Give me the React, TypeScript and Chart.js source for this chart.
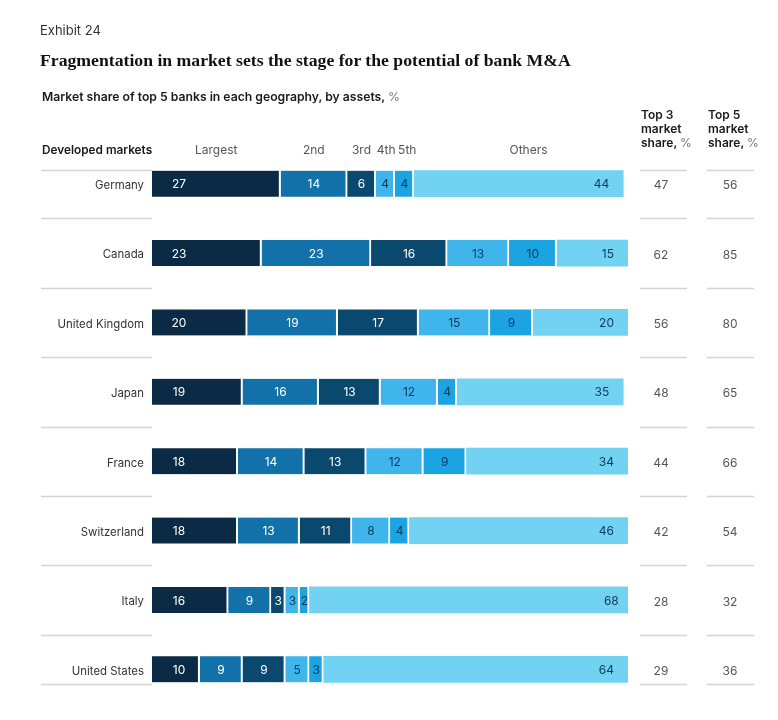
import React, { useEffect, useRef } from "react";
import { Chart, registerables } from "chart.js";

Chart.register(...registerables);

const countries = ["Germany", "Canada", "United Kingdom", "Japan", "France", "Switzerland", "Italy", "United States"];
const segmentNames = ["Largest", "2nd", "3rd", "4th", "5th", "Others"];
const largest = [27, 23, 20, 19, 18, 18, 16, 10];
const second = [14, 23, 19, 16, 14, 13, 9, 9];
const third = [6, 16, 17, 13, 13, 11, 3, 9];
const fourth = [4, 13, 15, 12, 12, 8, 3, 5];
const fifth = [4, 10, 9, 4, 9, 4, 2, 3];
const others = [44, 15, 20, 35, 34, 46, 68, 64];
const top3Share = [47, 62, 56, 48, 44, 42, 28, 29];
const top5Share = [56, 85, 80, 65, 66, 54, 32, 36];

const segColors = ["#0a2a45", "#1271a8", "#0b486e", "#40b5ec", "#1ba3e2", "#72d2f2"];
const labelColors = ["#ffffff", "#ffffff", "#ffffff", "#0d3a5c", "#0d3a5c", "#0d3a5c"];
const FONT = "Inter, Roboto, 'Liberation Sans', Arial, sans-serif";

const overlayPlugin = {
  id: "overlay",
  afterDatasetsDraw(chart: any) {
    const ctx = chart.ctx;
    const yScale = chart.scales.y;
    const area = chart.chartArea;
    ctx.save();
    // segment labels
    chart.data.datasets.forEach((ds: any, di: number) => {
      const meta = chart.getDatasetMeta(di);
      meta.data.forEach((bar: any, i: number) => {
        const v = ds.data[i];
        ctx.font = `12px ${FONT}`;
        ctx.fillStyle = labelColors[di];
        ctx.textBaseline = "middle";
        let x: number;
        if (di === 0) {
          ctx.textAlign = "center";
          x = bar.base + 27;
        } else if (di === 5) {
          ctx.textAlign = "right";
          x = bar.x - 14;
        } else {
          ctx.textAlign = "center";
          x = (bar.base + bar.x) / 2;
        }
        ctx.fillText(String(v), x, bar.y + 1);
      });
    });
    // column headers from first row segments
    ctx.font = `12px ${FONT}`;
    ctx.fillStyle = "#555";
    ctx.textAlign = "center";
    ctx.textBaseline = "alphabetic";
    const headerShift = [0, 0, 0, 1, 3, 10];
    chart.data.datasets.forEach((ds: any, di: number) => {
      const bar = chart.getDatasetMeta(di).data[0];
      const x = (bar.base + bar.x) / 2 + headerShift[di];
      ctx.fillText(segmentNames[di], x, 154);
    });
    // country labels, right columns, separators
    const n = countries.length;
    const step = yScale.getPixelForValue(1) - yScale.getPixelForValue(0);
    const lineYs: number[] = [];
    lineYs.push(yScale.getPixelForValue(0) - 14);
    for (let i = 0; i < n - 1; i++) lineYs.push(yScale.getPixelForValue(i) + step / 2);
    lineYs.push(yScale.getPixelForValue(n - 1) + 15);
    ctx.strokeStyle = "#d4d4d4";
    ctx.lineWidth = 1.5;
    lineYs.forEach((ly) => {
      const yy = Math.round(ly) + 0.5;
      ctx.beginPath();
      ctx.moveTo(41, yy);
      ctx.lineTo(area.left, yy);
      ctx.moveTo(640, yy);
      ctx.lineTo(687, yy);
      ctx.moveTo(707, yy);
      ctx.lineTo(754, yy);
      ctx.stroke();
    });
    countries.forEach((c, i) => {
      const y = yScale.getPixelForValue(i) + 2;
      ctx.textBaseline = "middle";
      ctx.font = `11.4px ${FONT}`;
      ctx.fillStyle = "#333";
      ctx.textAlign = "right";
      ctx.fillText(c, area.left - 8, y);
      ctx.font = `12px ${FONT}`;
      ctx.fillStyle = "#555";
      ctx.textAlign = "center";
      ctx.fillText(String(top3Share[i]), 661, y);
      ctx.fillText(String(top5Share[i]), 730, y);
    });
    ctx.restore();
  },
};

export default function App() {
  const ref = useRef<HTMLCanvasElement>(null);
  useEffect(() => {
    if (!ref.current) return;
    const series = [largest, second, third, fourth, fifth, others];
    const chart = new Chart(ref.current, {
      type: "bar",
      data: {
        labels: countries,
        datasets: series.map((d, i) => ({
          label: segmentNames[i],
          data: d,
          backgroundColor: segColors[i],
          borderColor: "#ffffff",
          borderWidth: i === 5 ? 0 : { top: 0, bottom: 0, left: 0, right: 2 },
          borderSkipped: false,
          barThickness: 26,
        })),
      },
      options: {
        indexAxis: "y",
        responsive: false,
        animation: false,
        layout: { padding: { left: 152, right: 150, top: 149, bottom: 16 } },
        plugins: { legend: { display: false }, tooltip: { enabled: false } },
        scales: {
          x: { stacked: true, min: 0, max: 100, display: false },
          y: { stacked: true, display: false },
        },
      } as any,
      plugins: [overlayPlugin],
    });
    return () => chart.destroy();
  }, []);

  const text: React.CSSProperties = { position: "absolute", margin: 0, whiteSpace: "nowrap", fontFamily: FONT };
  return (
    <div style={{ position: "absolute", left: 0, top: 0, width: 778, height: 720, background: "#fff" }}>
      <canvas ref={ref} width={778} height={720} style={{ position: "absolute", left: 0, top: 0 }} />
      <div style={{ ...text, left: 40, top: 22, fontSize: 13, color: "#333" }}>Exhibit 24</div>
      <div style={{ ...text, left: 40, top: 50, fontSize: 17.7, fontWeight: 700, color: "#111", fontFamily: "'Liberation Serif', 'DejaVu Serif', serif" }}>
        Fragmentation in market sets the stage for the potential of bank M&amp;A
      </div>
      <div style={{ ...text, left: 42, top: 89, fontSize: 12.2, fontWeight: 600, color: "#1a1a1a" }}>
        Market share of top 5 banks in each geography, by assets, <span style={{ fontWeight: 400, color: "#777" }}>%</span>
      </div>
      <div style={{ ...text, left: 42, top: 143, fontSize: 11.8, fontWeight: 600, color: "#1a1a1a" }}>Developed markets</div>
      <div style={{ ...text, left: 641, top: 108, fontSize: 12, fontWeight: 600, color: "#1a1a1a", lineHeight: "14px" }}>
        Top 3<br />market<br />share, <span style={{ fontWeight: 400, color: "#777" }}>%</span>
      </div>
      <div style={{ ...text, left: 708, top: 108, fontSize: 12, fontWeight: 600, color: "#1a1a1a", lineHeight: "14px" }}>
        Top 5<br />market<br />share, <span style={{ fontWeight: 400, color: "#777" }}>%</span>
      </div>
    </div>
  );
}
